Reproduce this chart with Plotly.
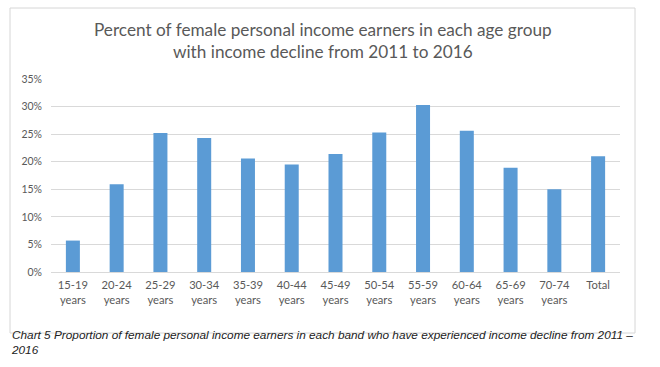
import plotly.graph_objects as go

categories = ["15-19<br>years", "20-24<br>years", "25-29<br>years", "30-34<br>years", "35-39<br>years",
              "40-44<br>years", "45-49<br>years", "50-54<br>years", "55-59<br>years", "60-64<br>years",
              "65-69<br>years", "70-74<br>years", "Total"]
values = [0.057, 0.159, 0.252, 0.243, 0.206, 0.195, 0.214, 0.253, 0.303, 0.256, 0.189, 0.150, 0.210]
tick_vals = [0, 0.05, 0.10, 0.15, 0.20, 0.25, 0.30, 0.35]

W, H = 660, 367
L, R, T, B = 51, 40, 79, 95
PW, PH = W - L - R, H - T - B
Y0 = H - B  # pixel y of 0%

def px_x(x):
    return (x - L) / PW

def px_y(y):
    return (Y0 - y) / PH

fig = go.Figure(go.Bar(x=categories, y=values, marker=dict(color="#5B9BD5", line=dict(width=0)),
                       width=0.32, hoverinfo="skip"))

fig.update_layout(
    width=W, height=H,
    margin=dict(l=L, r=R, t=T, b=B),
    paper_bgcolor="white", plot_bgcolor="white",
    showlegend=False,
    font=dict(family="Lato, Open Sans, sans-serif", color="#595959", size=11),
)
fig.update_yaxes(range=[0, 0.35], tickvals=tick_vals, tickformat=".0%", showgrid=True,
                 gridcolor="#D9D9D9", gridwidth=1, zeroline=False, showline=False,
                 ticks="", tickfont=dict(size=10.5, color="#595959"), ticklabelstandoff=8,
                 automargin=False)
fig.update_xaxes(showgrid=False, showline=True, linecolor="#D9D9D9", ticks="",
                 tickfont=dict(size=11.2, color="#595959"), ticklabelstandoff=3,
                 automargin=False)

# chart border
fig.add_shape(type="rect", xref="paper", yref="paper",
              x0=px_x(10), x1=px_x(635), y0=px_y(333), y1=px_y(8),
              line=dict(color="#D6D6D6", width=1), layer="above")

fig.add_annotation(xref="paper", yref="paper", x=px_x(323), y=px_y(41),
                   text="Percent of female personal income earners in each age group<br>with income decline from 2011 to 2016",
                   showarrow=False, font=dict(size=17.2, color="#595959", family="Lato, Open Sans, sans-serif"),
                   xanchor="center", yanchor="middle", align="center")

fig.add_annotation(xref="paper", yref="paper", x=px_x(9), y=px_y(326),
                   text="<i>Chart 5 Proportion of female personal income earners in each band who have experienced income decline from 2011 –</i><br><i>2016</i>",
                   showarrow=False, font=dict(size=11.8, color="#222222", family="Liberation Sans, Arial, sans-serif"),
                   xanchor="left", yanchor="top", align="left")

fig.write_html("out.html", config={"displayModeBar": False},
               post_script="document.body.style.margin='0';document.body.style.overflow='hidden';")
